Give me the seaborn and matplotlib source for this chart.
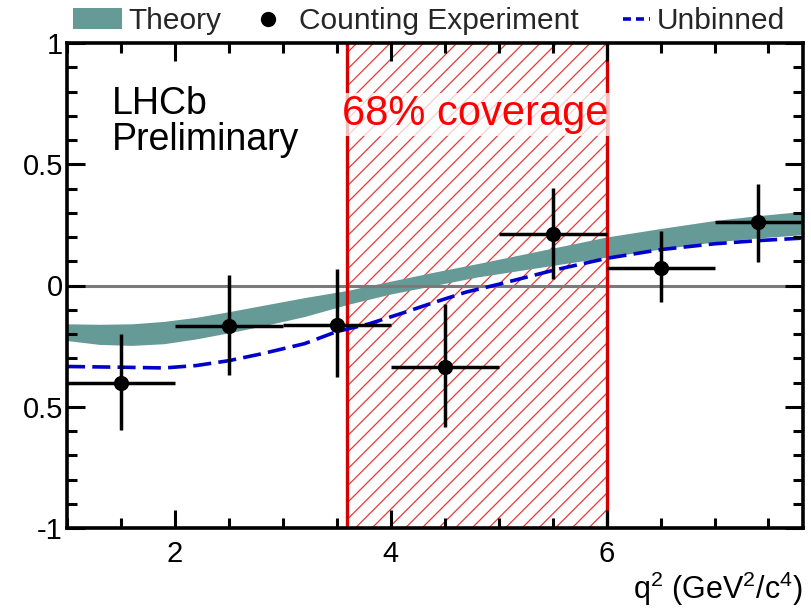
import numpy as np
import pandas as pd
import matplotlib
matplotlib.use("Agg")
import matplotlib.pyplot as plt
import seaborn as sns
from matplotlib.patches import Patch
from matplotlib.lines import Line2D
from matplotlib.ticker import MultipleLocator
from matplotlib.legend_handler import HandlerLine2D

# ---------------- data ----------------
# Counting experiment (binned) points
bin_centers = [1.5, 2.5, 3.5, 4.5, 5.5, 6.5, 7.4]
bin_halfwidth = [0.5, 0.5, 0.5, 0.5, 0.5, 0.5, 0.4]
count_values = [-0.40, -0.168, -0.161, -0.338, 0.214, 0.074, 0.26]
err_up = [0.20, 0.213, 0.227, 0.26, 0.19, 0.149, 0.16]
err_down = [0.195, 0.20, 0.218, 0.247, 0.186, 0.14, 0.165]

# Theory band
theory_q2 = [1.0, 1.3, 1.6, 1.9, 2.2, 2.5, 2.8, 3.2, 3.6, 4.0, 4.4, 4.8, 5.4, 6.0, 6.5, 7.0, 7.4, 7.8]
theory_hi = [-0.158, -0.160, -0.158, -0.148, -0.131, -0.108, -0.083, -0.050, -0.020, 0.018,
             0.055, 0.090, 0.145, 0.200, 0.235, 0.268, 0.288, 0.305]
theory_lo = [-0.227, -0.243, -0.247, -0.240, -0.220, -0.195, -0.168, -0.128, -0.078, -0.035,
             0.000, 0.035, 0.076, 0.117, 0.150, 0.180, 0.196, 0.209]

# Unbinned result
unbinned_q2 = [1.0, 1.5, 1.9, 2.2, 2.5, 2.8, 3.2, 3.5, 3.8, 4.1, 4.4, 4.7, 5.0, 5.5, 6.0, 6.5, 7.0, 7.4, 7.8]
unbinned_val = [-0.334, -0.337, -0.340, -0.330, -0.310, -0.282, -0.240, -0.190, -0.158, -0.115,
                -0.070, -0.027, 0.005, 0.062, 0.112, 0.148, 0.172, 0.185, 0.195]

# 68% coverage interval
coverage_lo = 3.59
coverage_hi = 6.0

y_ticks = [-1, -0.5, 0, 0.5, 1]
y_ticklabels = ["-1", "0.5", "0", "0.5", "1"]
x_ticks = [2, 4, 6]
x_ticklabels = ["2", "4", "6"]

# ---------------- style ----------------
sns.set_theme(style="ticks")
plt.rcParams["font.family"] = ["Liberation Sans", "DejaVu Sans"]
plt.rcParams["mathtext.fontset"] = "custom"
plt.rcParams["mathtext.rm"] = "Liberation Sans"
plt.rcParams["mathtext.it"] = "Liberation Sans:italic"
plt.rcParams["hatch.linewidth"] = 0.9

TEAL = "#669a97"
BLUE = "#0000cc"
RED_LINE = "#d40000"
RED_HATCH = "#e83a3a"

fig = plt.figure(figsize=(8.11, 6.10), dpi=100)
ax = fig.add_axes([67 / 811, 1 - 528 / 610, (803 - 67) / 811, (528 - 43) / 610])
ax.set_facecolor("white")

# coverage region
ax.axvspan(coverage_lo, coverage_hi, facecolor="none", edgecolor=RED_HATCH,
           hatch="//", lw=0, zorder=1)
ax.axvline(coverage_lo, color=RED_LINE, lw=2.4, zorder=3)
ax.axvline(coverage_hi, color=RED_LINE, lw=2.4, zorder=3)

# theory band
ax.fill_between(theory_q2, theory_lo, theory_hi, color=TEAL, lw=0, zorder=2)

# zero line
ax.axhline(0, color="#7a7a7a", lw=2.2, zorder=2.5)

# unbinned curve
unb_df = pd.DataFrame({"q2": unbinned_q2, "val": unbinned_val})
sns.lineplot(data=unb_df, x="q2", y="val", ax=ax, color=BLUE, lw=2.6,
             linestyle=(0, (5, 2)), zorder=4, errorbar=None)

# counting experiment
ax.errorbar(bin_centers, count_values, xerr=bin_halfwidth, yerr=[err_down, err_up],
            fmt="none", ecolor="black", elinewidth=2.5, capsize=0, zorder=5)
cnt_df = pd.DataFrame({"q2": bin_centers, "val": count_values})
sns.scatterplot(data=cnt_df, x="q2", y="val", ax=ax, color="black", s=120,
                edgecolor="black", linewidth=0, zorder=6)

# texts
ax.text(4.78, 0.66, "68% coverage", color="#ff0000", fontsize=30, ha="center",
        va="baseline", zorder=7,
        bbox=dict(facecolor="white", alpha=0.75, edgecolor="none", pad=1))
ax.text(1.415, 0.709, "LHCb", fontsize=27, color="black", ha="left", va="baseline", zorder=7)
ax.text(1.415, 0.557, "Preliminary", fontsize=27, color="black", ha="left", va="baseline", zorder=7)

# axes
ax.set_xlim(1.0, 7.82)
ax.set_ylim(-1, 1)
ax.set_xticks(x_ticks, labels=x_ticklabels)
ax.set_yticks(y_ticks, labels=y_ticklabels)
ax.xaxis.set_minor_locator(MultipleLocator(0.5))
ax.yaxis.set_minor_locator(MultipleLocator(0.1))
ax.tick_params(which="both", direction="in", top=True, right=True, color="black",
               width=2.2)
ax.tick_params(which="major", length=13)
ax.tick_params(which="minor", length=7)
ax.tick_params(axis="x", which="major", pad=9, labelsize=21, labelcolor="black")
ax.tick_params(axis="y", which="major", pad=3, labelsize=21, labelcolor="black")
for sp in ax.spines.values():
    sp.set_linewidth(2.6)
    sp.set_color("black")
    sp.set_zorder(10)
ax.xaxis.set_zorder(10)
ax.yaxis.set_zorder(10)
ax.grid(False)

ax.set_ylabel("")
ax.set_xlabel(r"q$^{\mathrm{2}}$ (GeV$^{\mathrm{2}}$/c$^{\mathrm{4}}$)", fontsize=22,
              loc="right", labelpad=1, color="black")


# legend: short dashed handle for "Unbinned", placed at the right of its slot
class ShortLineHandler(HandlerLine2D):
    def create_artists(self, legend, orig_handle, xdescent, ydescent, width, height,
                       fontsize, trans):
        artists = super().create_artists(legend, orig_handle, xdescent, ydescent,
                                         width, height, fontsize, trans)
        for a in artists:
            xd = np.asarray(a.get_xdata(), dtype=float)
            if isinstance(a, Line2D) and len(xd) >= 2:
                x0, x1 = xd[0], xd[-1]
                a.set_xdata(np.linspace(x1 - (x1 - x0) * 0.55, x1, len(xd)))
        return artists


handles = [
    Patch(facecolor=TEAL, edgecolor="none"),
    Line2D([], [], marker="o", color="black", ls="none", markersize=10),
    Line2D([], [], color=BLUE, lw=2.6, ls=(0, (2.2, 1.4))),
]
labels = ["Theory", "Counting Experiment", "Unbinned"]
fig.legend(handles, labels, loc="upper left", bbox_to_anchor=(73 / 811, 1 - 7 / 610),
           ncol=3, frameon=False, fontsize=21.5, handlelength=1.65, handletextpad=0.2,
           columnspacing=0.75, borderpad=0, borderaxespad=0,
           handler_map={handles[2]: ShortLineHandler()})

fig.savefig("out.png", dpi=100)
